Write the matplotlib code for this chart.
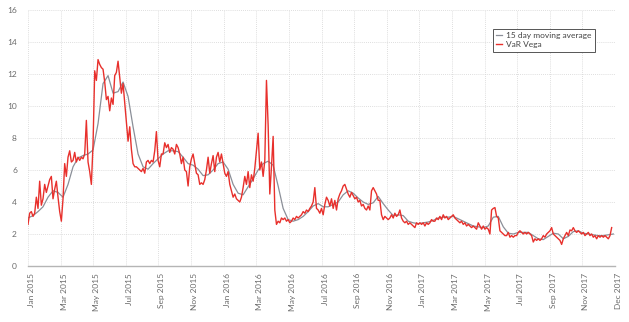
import numpy as np
import matplotlib.pyplot as plt

# daily VaR Vega observations (every other trading day), Jan 2015 - Dec 2017
var_vega = [
    2.6, 3.3, 3.4, 3.1, 3.3, 4.3, 3.6, 5.3, 3.8, 4.2,
    5.1, 4.6, 5.0, 5.4, 5.6, 4.2, 4.8, 5.3, 4.3, 3.4,
    2.8, 4.2, 6.4, 5.6, 6.8, 7.2, 6.5, 6.6, 7.1, 6.5,
    6.8, 6.6, 6.8, 6.7, 7.0, 9.1, 6.5, 5.9, 5.1, 7.6,
    12.2, 11.6, 12.9, 12.6, 12.4, 12.3, 11.5, 10.4, 10.6, 9.7,
    10.5, 10.1, 11.9, 12.1, 12.8, 11.8, 10.8, 11.4, 10.2, 9.0,
    7.8, 8.7, 7.3, 6.4, 6.2, 6.2, 6.1, 6.0, 5.9, 6.1,
    5.8, 6.5, 6.6, 6.4, 6.6, 6.5, 7.2, 8.4, 6.6, 6.2,
    7.0, 7.0, 7.7, 7.4, 7.6, 7.1, 7.4, 7.3, 7.0, 7.6,
    7.4, 7.0, 6.4, 6.8, 6.0, 5.9, 5.0, 6.2, 6.7, 7.0,
    6.4, 5.8, 5.7, 5.1, 5.2, 5.1, 5.4, 6.0, 6.8, 5.8,
    6.4, 6.9, 5.9, 6.8, 7.1, 6.5, 7.0, 6.4, 5.8, 5.6,
    5.9, 5.1, 4.7, 4.3, 4.5, 4.2, 4.1, 4.0, 4.3, 4.9,
    5.6, 5.1, 5.9, 4.9, 5.7, 5.3, 6.1, 7.2, 8.3,
    6.0, 6.5, 5.6, 6.6, 11.6, 8.8, 4.5, 6.2, 8.1, 3.5,
    2.6, 2.8, 2.7, 3.0, 2.9, 3.0, 2.8, 2.9, 2.7, 2.8,
    3.0, 2.9, 3.1, 3.0, 3.1, 3.2, 3.4, 3.3, 3.5, 3.4,
    3.6, 3.75, 4.0, 4.9, 3.6, 3.5, 3.3, 3.6, 3.2, 3.85,
    4.3, 4.1, 3.75, 4.2, 3.6, 4.1, 3.5, 4.2, 4.5, 4.7,
    5.0, 5.1, 4.8, 4.5, 4.3, 4.6, 4.4, 4.2, 4.3, 4.0,
    4.1, 3.75, 3.85, 3.6, 3.5, 3.75, 3.5, 4.7, 4.9, 4.7,
    4.5, 4.1,
    4.1, 3.2, 2.9, 3.1, 3.0, 2.9, 3.0, 3.2, 3.0, 3.3,
    3.1, 3.2, 3.5, 3.0, 2.8, 2.7, 2.8, 2.6, 2.7, 2.6,
    2.5, 2.4, 2.7, 2.6, 2.7, 2.6, 2.7, 2.5, 2.7, 2.6,
    2.7, 2.9, 2.8, 2.8, 3.0, 2.9, 3.1, 2.9, 3.2, 3.0,
    3.1, 2.9, 3.0, 3.1, 3.2, 3.0, 2.9, 2.8, 2.7, 2.8,
    2.6, 2.7, 2.5, 2.6, 2.5, 2.4, 2.5, 2.4, 2.3, 2.7,
    2.5, 2.3, 2.5, 2.3, 2.4, 2.3, 2.0, 3.5, 3.6, 3.65,
    3.1, 3.0, 2.2,
    2.1, 2.0, 1.9, 1.9, 2.1, 1.8, 1.9, 1.8, 1.9, 1.9,
    2.1, 2.2, 2.1, 2.0, 2.1, 2.0, 2.1, 2.0, 1.9, 1.5,
    1.7, 1.6, 1.7, 1.6, 1.7, 1.9, 1.8, 2.0, 2.1, 2.2,
    2.4, 2.0, 1.9, 1.8, 1.7, 1.6, 1.35, 1.7, 1.9, 2.1,
    1.9, 2.25, 2.2, 2.4, 2.2, 2.1, 2.2, 2.1, 2.0, 2.1,
    1.9, 2.0, 2.1, 1.9, 2.0, 1.8, 1.9, 1.7, 1.9, 1.8,
    1.9, 1.8, 1.9, 1.8, 1.7, 1.9, 2.4,
]

# 15 day moving average, one value every third observation
ma_15 = [
    3.0, 3.15, 3.4, 3.7, 4.3, 4.7, 4.6, 4.3, 5.1, 6.2,
    6.75, 6.9, 7.0, 7.25, 8.9, 11.4, 11.9, 10.8, 10.9, 11.5,
    10.6, 8.7, 7.0, 6.2, 6.05, 6.4, 6.7, 7.0, 7.2, 7.2,
    7.15, 6.8, 6.4, 6.3, 6.05, 5.65, 5.7, 6.0, 6.4, 6.5,
    6.05, 5.1, 4.55, 4.45, 4.95, 5.45, 6.0, 6.4, 6.55, 6.3,
    5.0, 3.6, 2.9, 2.8, 2.9, 3.1, 3.4, 3.75, 3.9, 3.7,
    3.7, 3.85, 4.0, 4.45, 4.7, 4.55, 4.25, 4.0, 3.85, 3.95,
    4.35, 3.9, 3.5, 3.15, 3.2, 3.15, 2.8, 2.7, 2.65, 2.7,
    2.75, 2.85, 3.0, 3.05, 3.05, 3.1, 2.95, 2.8, 2.65, 2.5,
    2.45, 2.4, 2.5, 3.05, 3.1, 2.45, 2.05, 2.0, 2.1, 2.1,
    2.1, 1.9, 1.7, 1.65, 1.85, 2.05, 2.0, 1.7, 1.85, 2.15,
    2.2, 2.05, 2.0, 1.95, 1.9, 1.9, 1.95, 2.0,
]
ma_step = 3

month_labels = ['Jan 2015', 'Mar 2015', 'May 2015', 'Jul 2015', 'Sep 2015',
                'Nov 2015', 'Jan 2016', 'Mar 2016', 'May 2016', 'Jul 2016',
                'Sep 2016', 'Nov 2016', 'Jan 2017', 'Mar 2017', 'May 2017',
                'Jul 2017', 'Sep 2017', 'Nov 2017', 'Dec 2017']

x_red = np.arange(len(var_vega))
x_ma = np.arange(len(ma_15)) * ma_step
x_end = len(var_vega) + 1

plt.rcParams['font.family'] = ['Lato', 'DejaVu Sans']
txt = '#6b6b6b'

fig = plt.figure(figsize=(6.29, 3.22), dpi=100)
ax = fig.add_axes([28/629, 56/322, 587/629, 256/322])

ax.plot(x_ma, ma_15, color='#8b8f98', lw=0.9, label='15 day moving average')
ax.plot(x_red, var_vega, color='#e8302c', lw=1.0, label='VaR Vega')

ax.set_xlim(0, x_end)
ax.set_ylim(0, 16)
ax.set_yticks(np.arange(0, 17, 2))
ax.set_xticks(np.linspace(0, x_end, len(month_labels)))
ax.set_xticklabels(month_labels, rotation=90, ha='left', va='top')

ax.grid(True, color='#d4d4d4', lw=0.6, ls=(0, (1, 1.5)))
ax.set_axisbelow(True)
for s in ['top', 'right', 'left']:
    ax.spines[s].set_visible(False)
ax.spines['bottom'].set_color('#b5b5b5')
ax.spines['bottom'].set_linewidth(1.0)
ax.tick_params(axis='both', length=0, labelsize=6, labelcolor=txt)
ax.tick_params(axis='y', pad=8)
ax.tick_params(axis='x', pad=5)

leg = ax.legend(loc='upper left', bbox_to_anchor=(0.792, 0.926), borderaxespad=0,
                fontsize=6, handlelength=0.7, handletextpad=0.45,
                borderpad=0.4, labelspacing=0.25, fancybox=False,
                framealpha=1, edgecolor='#555555')
leg.get_frame().set_linewidth(0.7)
for t in leg.get_texts():
    t.set_color('#444444')

fig.savefig('out.png', dpi=100)
